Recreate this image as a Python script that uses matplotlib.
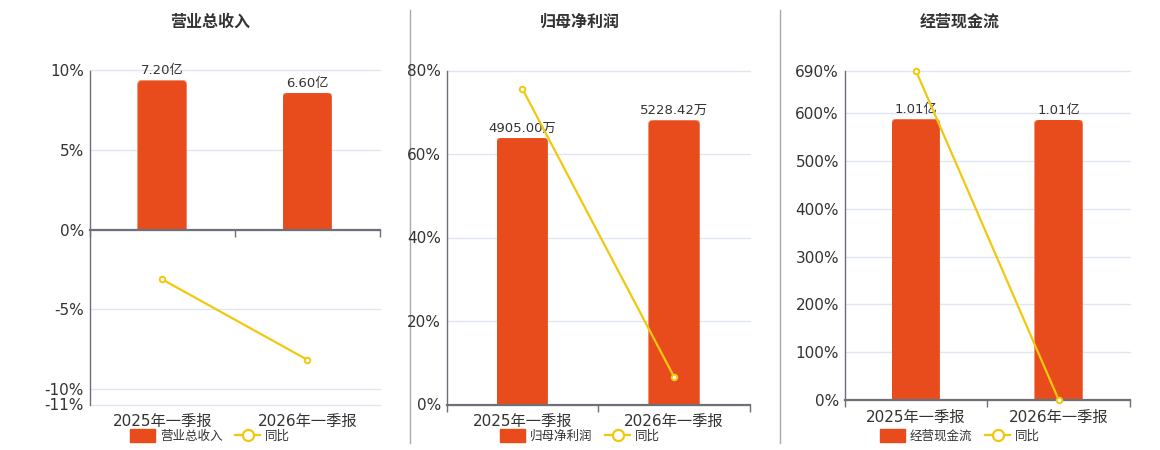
import matplotlib
matplotlib.use("Agg")
import matplotlib.pyplot as plt
import matplotlib.patches as mpatches
from matplotlib.lines import Line2D
import numpy as np

plt.rcParams['font.family'] = ['DejaVu Sans', 'Noto Sans CJK SC']

# data
periods = ['2025年一季报', '2026年一季报']

titles = ['营业总收入', '归母净利润', '经营现金流']
bar_names = ['营业总收入', '归母净利润', '经营现金流']

revenue = [7.20, 6.60]            # 亿
revenue_labels = ['7.20亿', '6.60亿']
revenue_yoy = [-3.13, -8.19]      # %

profit = [4905.00, 5228.42]       # 万
profit_labels = ['4905.00万', '5228.42万']
profit_yoy = [75.6, 6.59]

cashflow = [1.012, 1.010]         # 亿
cashflow_labels = ['1.01亿', '1.01亿']
cashflow_yoy = [689.6, 0.2]

pct_ticks = [
    [-11, -10, -5, 0, 5, 10],
    [0, 20, 40, 60, 80],
    [0, 100, 200, 300, 400, 500, 600, 690],
]

BAR_C = '#E84B1C'
LINE_C = '#F2C80F'
TXT_C = '#333333'
AX_C = '#6E7079'
GRID_C = '#E0E6F1'

W, H = 1160, 450
fig = plt.figure(figsize=(W / 100, H / 100), dpi=100)

# panel boxes in pixels: left, right, top, bottom ; bar axis top value ; legend centre
panels = [
    dict(box=(89.5, 380, 70.5, 404.5), bar_top=7.67, leg_x=210),
    dict(box=(446.5, 750, 70.5, 404.5), bar_top=6140, leg_x=580),
    dict(box=(844.5, 1130, 70.5, 399.8), bar_top=1.187, leg_x=960),
]
series = [
    (revenue, revenue_labels, revenue_yoy),
    (profit, profit_labels, profit_yoy),
    (cashflow, cashflow_labels, cashflow_yoy),
]

x = np.arange(len(periods))

for i, (p, (vals, labels, yoy)) in enumerate(zip(panels, series)):
    l, r, t, b = p['box']
    ax = fig.add_axes([l / W, 1 - b / H, (r - l) / W, (b - t) / H])
    axb = ax.twinx()
    ax.set_zorder(3)
    axb.set_zorder(1)
    ax.patch.set_visible(False)

    ticks = pct_ticks[i]
    ylo, yhi = ticks[0], ticks[-1]
    ax.set_ylim(ylo, yhi)
    ax.set_xlim(-0.5, len(periods) - 0.5)
    k = p['bar_top'] / yhi
    axb.set_ylim(ylo * k, yhi * k)

    # grid lines live on the bar axis so they sit under the bars
    axb.set_yticks(np.array(ticks) * k)
    axb.yaxis.grid(True, color=GRID_C, lw=1)
    axb.set_axisbelow(True)
    axb.tick_params(axis='y', right=False, labelright=False)
    for gl in axb.get_ygridlines():
        gl.set_clip_on(False)
    for s in axb.spines.values():
        s.set_visible(False)

    # category labels at the bottom of the plot area
    axb.xaxis.set_visible(True)
    axb.set_xticks(x)
    axb.set_xticks([-0.5, 0.5, 1.5], minor=True)
    axb.set_xticklabels(periods)
    axb.tick_params(axis='x', which='both', length=0, pad=7,
                    labelsize=11, labelcolor=TXT_C)

    # percent axis
    ax.set_yticks(ticks)
    ax.set_yticklabels([f'{v}%' for v in ticks])
    ax.tick_params(axis='y', length=0, labelsize=11, labelcolor=TXT_C, pad=4)
    ax.tick_params(axis='x', which='major', length=0, labelbottom=False)
    ax.tick_params(axis='x', which='minor', length=5, width=1, color=AX_C)
    for s in ['top', 'right']:
        ax.spines[s].set_visible(False)
    ax.spines['left'].set_color(AX_C)
    ax.spines['left'].set_linewidth(1)
    ax.spines['bottom'].set_position(('data', 0))
    ax.spines['bottom'].set_color(AX_C)
    ax.spines['bottom'].set_linewidth(1.6)

    # bars with rounded tops
    bars = axb.bar(x, vals, width=0.34, color=BAR_C)
    px_x = (r - l) / (len(periods))
    px_y = (b - t) / (yhi * k - ylo * k)
    rad = 5.0
    rx = rad / px_x
    aspect = px_x / px_y
    for rect in bars:
        rect.set_alpha(0)
        x0, w = rect.get_x(), rect.get_width()
        h = rect.get_height()
        ry = rad / px_y
        fb = mpatches.FancyBboxPatch(
            (x0, -ry), w, h + ry,
            boxstyle=f'round,pad=0,rounding_size={rx}',
            mutation_aspect=aspect, facecolor=BAR_C,
            edgecolor='#F29A7C', lw=0.6, zorder=2)
        axb.add_patch(fb)
        fb.set_clip_path(rect)
    axb.bar_label(bars, labels=labels, padding=2, fontsize=9.5, color=TXT_C)

    # yoy line
    ax.plot(x, yoy, color=LINE_C, lw=1.6, marker='o', markersize=4,
            markerfacecolor='white', markeredgecolor=LINE_C,
            markeredgewidth=1.4, zorder=5, clip_on=False)

    fig.text(p['leg_x'] / W, 1 - 22 / H,
             titles[i], ha='center', va='center', fontsize=11.5,
             fontweight='bold', color=TXT_C, family=['Noto Sans CJK SC'])

    handles = [
        mpatches.FancyBboxPatch((0, 0), 1, 1, facecolor=BAR_C,
                                edgecolor=BAR_C,
                                boxstyle='round,pad=0,rounding_size=0.2'),
        Line2D([], [], color=LINE_C, lw=1.6, marker='o', markersize=8,
               markerfacecolor='white', markeredgecolor=LINE_C,
               markeredgewidth=1.6),
    ]
    leg = fig.legend(handles, [bar_names[i], '同比'], loc='center',
                     bbox_to_anchor=(p['leg_x'] / W, 1 - 436 / H), ncol=2,
                     frameon=False, fontsize=9, handlelength=2.0,
                     handleheight=1.2, handletextpad=0.4, columnspacing=1.0,
                     borderaxespad=0, borderpad=0)
    for txt in leg.get_texts():
        txt.set_color(TXT_C)
        txt.set_family(['Noto Sans CJK SC'])

# panel separators
for sx in [410, 780]:
    fig.add_artist(Line2D([sx / W, sx / W], [1 - 10 / H, 1 - 443 / H],
                          color='#AAAAAA', lw=1))

fig.savefig('out.png', dpi=100, facecolor='white')
